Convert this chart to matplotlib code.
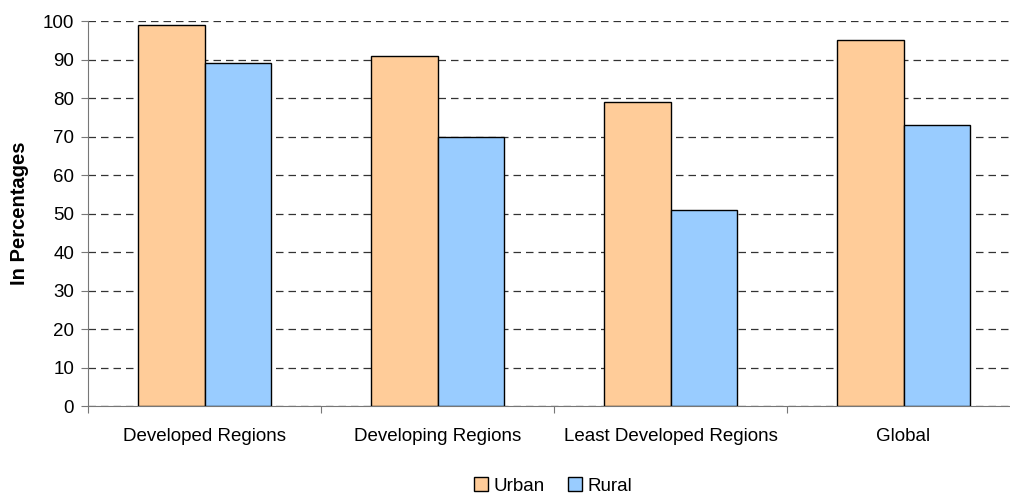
import matplotlib.pyplot as plt
import numpy as np

plt.rcParams['font.family'] = ['Liberation Sans', 'DejaVu Sans']

categories = ['Developed Regions', 'Developing Regions', 'Least Developed Regions', 'Global']
urban = [99, 91, 79, 95]
rural = [89, 70, 51, 73]

fig = plt.figure(figsize=(10.1, 4.98), dpi=100)
ax = fig.add_axes([88 / 1010, 92 / 498, 932 / 1010, 385 / 498])

x = np.arange(len(categories))
w = 0.286
ax.bar(x - w / 2, urban, w, color='#FFCC99', edgecolor='black', linewidth=1, label='Urban', zorder=3)
ax.bar(x + w / 2, rural, w, color='#99CCFF', edgecolor='black', linewidth=1, label='Rural', zorder=3)

ax.set_xlim(-0.5, len(categories) - 0.5)
ax.set_ylim(0, 100)
ax.set_yticks(range(0, 101, 10))
ax.yaxis.grid(True, linestyle=(0, (6, 4)), color='#333333', linewidth=0.9, zorder=0)

# category boundaries as major ticks, labels on minor ticks
ax.set_xticks(np.arange(-0.5, len(categories) - 0.4, 1))
ax.set_xticklabels([])
ax.set_xticks(x, minor=True)
ax.set_xticklabels(categories, minor=True, fontsize=13.5)
ax.tick_params(axis='x', which='minor', length=0, pad=16)
ax.tick_params(axis='x', which='major', length=5, color='#777777', direction='out')
ax.tick_params(axis='y', length=5, color='#777777', labelsize=13.5, pad=5)

for s in ['top', 'right']:
    ax.spines[s].set_visible(False)
for s in ['left', 'bottom']:
    ax.spines[s].set_color('#777777')

ax.set_ylabel('In Percentages', fontsize=14.5, fontweight='bold', labelpad=10)

fig.legend(loc='center', bbox_to_anchor=(553 / 1010, 1 - 486 / 498), ncol=2, frameon=False,
           fontsize=13.5, handlelength=0.75, handleheight=0.75, handletextpad=0.3, columnspacing=1.2)

fig.savefig('out.png', dpi=100)
